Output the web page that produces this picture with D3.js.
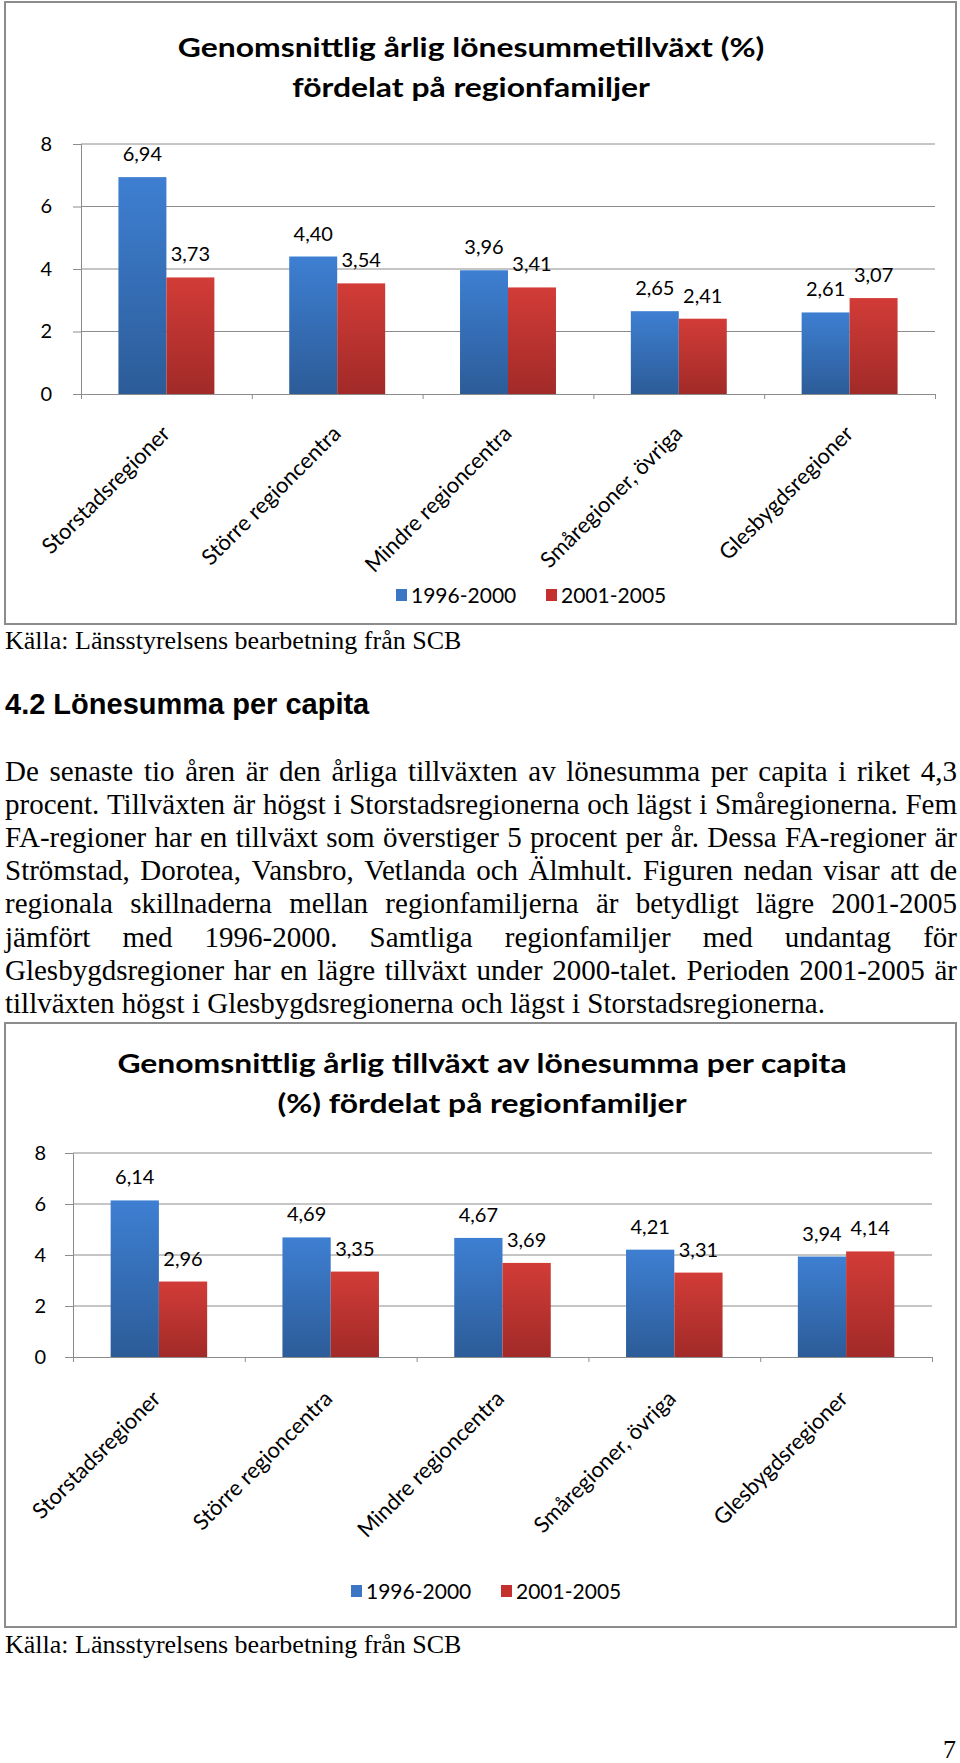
<!DOCTYPE html>
<meta charset="utf-8">
<script src="https://d3js.org/d3.v7.min.js"></script>
<style>
   body {
      background-color: white;
      margin: 0;
      padding: 0;
   }
   .chart text { font-family: Lato, "Open Sans", sans-serif; fill: #000; }
   .serif { font-family: "Liberation Serif", "Times New Roman", serif; fill: #000; }
</style>
<body>
<svg id="page" width="960" height="1763"></svg>
<script>

   // data
   var categories = ["Storstadsregioner", "Större regioncentra", "Mindre regioncentra", "Småregioner, övriga", "Glesbygdsregioner"]
   var seriesNames = ["1996-2000", "2001-2005"]
   var yTicks = [0, 2, 4, 6, 8]

   var chart1Early = [6.94, 4.40, 3.96, 2.65, 2.61]
   var chart1Late = [3.73, 3.54, 3.41, 2.41, 3.07]

   var chart2Early = [6.14, 4.69, 4.67, 4.21, 3.94]
   var chart2Late = [2.96, 3.35, 3.69, 3.31, 4.14]

   var chart1Title = ["Genomsnittlig årlig lönesummetillväxt (%)", "fördelat på regionfamiljer"]
   var chart2Title = ["Genomsnittlig årlig tillväxt av lönesumma per capita", "(%) fördelat på regionfamiljer"]

   var sourceText = "Källa: Länsstyrelsens bearbetning från SCB"
   var heading = "4.2 Lönesumma per capita"
   var paragraph = [
      "De senaste tio åren är den årliga tillväxten av lönesumma per capita i riket 4,3",
      "procent. Tillväxten är högst i Storstadsregionerna och lägst i Småregionerna. Fem",
      "FA-regioner har en tillväxt som överstiger 5 procent per år. Dessa FA-regioner är",
      "Strömstad, Dorotea, Vansbro, Vetlanda och Älmhult. Figuren nedan visar att de",
      "regionala skillnaderna mellan regionfamiljerna är betydligt lägre 2001-2005",
      "jämfört med 1996-2000. Samtliga regionfamiljer med undantag för",
      "Glesbygdsregioner har en lägre tillväxt under 2000-talet. Perioden 2001-2005 är",
      "tillväxten högst i Glesbygdsregionerna och lägst i Storstadsregionerna."
   ]
   var pageNumber = "7"

   var svg = d3.select("#page")
   var sv = d3.formatLocale({ decimal: ",", thousands: " ", grouping: [3], currency: ["", " kr"] })
   var fmt = sv.format(".2f")

   // gradients like the office bars
   var defs = svg.append("defs")
   function grad(id, top, bottom) {
      var lg = defs.append("linearGradient").attr("id", id)
         .attr("x1", 0).attr("y1", 0).attr("x2", 0).attr("y2", 1)
      lg.append("stop").attr("offset", "0%").attr("stop-color", top)
      lg.append("stop").attr("offset", "100%").attr("stop-color", bottom)
   }
   grad("gBlue", "#3e7fd2", "#2c5c98")
   grad("gRed", "#d23c37", "#a12a28")
   var fills = ["url(#gBlue)", "url(#gRed)"]
   var legendFills = ["#3a76c4", "#c4302d"]

   function drawChart(o) {
      var g = svg.append("g").attr("class", "chart")

      g.append("rect")
         .attr("x", o.frame[0]).attr("y", o.frame[1])
         .attr("width", o.frame[2] - o.frame[0]).attr("height", o.frame[3] - o.frame[1])
         .attr("fill", "white").attr("stroke", "#8c8c8c").attr("stroke-width", 2)

      // title is a bit wider than the font, so stretch it sideways
      g.selectAll(".title").data(o.title).enter().append("text")
         .attr("transform", function (d, i) { return "translate(" + o.titleX + "," + (o.titleY + i * 40) + ") scale(1.18,1)" })
         .attr("text-anchor", "middle")
         .style("font-size", "27px").style("font-weight", "bold")
         .text(function (d) { return d })

      var x = d3.scaleBand().domain(categories).range([o.left, o.right])
      var xs = d3.scaleBand().domain(seriesNames).range([0, x.bandwidth()]).paddingOuter(0.78).paddingInner(0)
      var y = d3.scaleLinear().domain([0, 8]).range([o.bottom, o.top])

      // grid
      g.selectAll(".grid").data(yTicks.filter(function (t) { return t > 0 })).enter().append("line")
         .attr("x1", o.left).attr("x2", o.right)
         .attr("y1", function (d) { return y(d) }).attr("y2", function (d) { return y(d) })
         .attr("stroke", "#8c8c8c").attr("stroke-width", 1)

      var yAxis = g.append("g").attr("transform", "translate(" + o.left + ",0)")
         .call(d3.axisLeft(y).tickValues(yTicks).tickSize(8).tickPadding(o.tickPad).tickFormat(d3.format("d")))
      yAxis.selectAll("path,line").attr("stroke", "#8c8c8c")
      yAxis.selectAll("text").style("font-size", "20px").attr("font-family", null)

      var xAxis = g.append("g").attr("transform", "translate(0," + o.bottom + ")")
         .call(d3.axisBottom(d3.scaleLinear().domain([0, 5]).range([o.left, o.right]))
            .tickValues([0, 1, 2, 3, 4, 5]).tickSize(5).tickFormat(""))
      xAxis.selectAll("path,line").attr("stroke", "#8c8c8c")

      var rows = categories.map(function (c, i) { return { cat: c, vals: [o.early[i], o.late[i]] } })

      var grp = g.selectAll(".grp").data(rows).enter().append("g")
         .attr("transform", function (d) { return "translate(" + x(d.cat) + ",0)" })

      grp.selectAll("rect").data(function (d) { return d.vals }).enter().append("rect")
         .attr("x", function (d, i) { return xs(seriesNames[i]) })
         .attr("width", xs.bandwidth())
         .attr("y", function (d) { return y(d) })
         .attr("height", function (d) { return y(0) - y(d) })
         .attr("fill", function (d, i) { return fills[i] })

      grp.selectAll(".lbl").data(function (d) { return d.vals }).enter().append("text")
         .attr("x", function (d, i) { return xs(seriesNames[i]) + xs.bandwidth() / 2 })
         .attr("y", function (d) { return y(d) - 16 })
         .attr("text-anchor", "middle")
         .style("font-size", "20px")
         .text(function (d) { return fmt(d) })

      // slanted category names
      g.selectAll(".cat").data(categories).enter().append("text")
         .attr("text-anchor", "end")
         .attr("transform", function (d) {
            return "translate(" + (x(d) + x.bandwidth() / 2 + o.catDx) + "," + (o.bottom + o.catDy) + ") rotate(-45)"
         })
         .style("font-size", "22px")
         .text(function (d) { return d })

      // legend
      var lg = g.selectAll(".leg").data(seriesNames).enter().append("g")
         .attr("transform", function (d, i) { return "translate(" + (o.legendX + i * 150) + "," + o.legendY + ")" })
      lg.append("rect").attr("x", 0).attr("y", -14).attr("width", 11).attr("height", 12)
         .attr("fill", function (d, i) { return legendFills[i] })
      lg.append("text").attr("x", 15).attr("y", 0).style("font-size", "21px").text(function (d) { return d })

      svg.append("text").attr("class", "serif")
         .attr("x", 5).attr("y", o.sourceY)
         .style("font-size", "26px")
         .text(sourceText)
   }

   drawChart({
      frame: [5, 2, 956, 624], title: chart1Title, titleX: 471, titleY: 57,
      left: 81, right: 935, top: 144, bottom: 394, tickPad: 21,
      catDx: 5, catDy: 41,
      early: chart1Early, late: chart1Late,
      legendX: 396, legendY: 603, sourceY: 649
   })

   drawChart({
      frame: [5, 1023, 956, 1627], title: chart2Title, titleX: 482, titleY: 1073,
      left: 73, right: 932, top: 1153, bottom: 1357, tickPad: 19,
      catDx: 3, catDy: 43,
      early: chart2Early, late: chart2Late,
      legendX: 351, legendY: 1599, sourceY: 1653
   })

   // heading and justified paragraph
   svg.append("text")
      .attr("x", 5).attr("y", 714)
      .style("font-family", "'Liberation Sans', Arial, sans-serif")
      .style("font-weight", "bold").style("font-size", "29px")
      .text(heading)

   var textLeft = 5, textRight = 957
   paragraph.forEach(function (line, li) {
      var words = line.split(" ")
      var yy = 781 + li * 33.1
      var nodes = words.map(function (w) {
         return svg.append("text").attr("class", "serif").attr("y", yy)
            .style("font-size", "29px").text(w)
      })
      var widths = nodes.map(function (n) { return n.node().getComputedTextLength() })
      var total = d3.sum(widths)
      var last = li === paragraph.length - 1
      var gap = last ? 7.25 : (textRight - textLeft - total) / (words.length - 1)
      var xx = textLeft
      nodes.forEach(function (n, i) {
         n.attr("x", xx)
         xx += widths[i] + gap
      })
   })

   svg.append("text").attr("class", "serif")
      .attr("x", 956).attr("y", 1758).attr("text-anchor", "end")
      .style("font-size", "26px")
      .text(pageNumber)

</script>
</body>
